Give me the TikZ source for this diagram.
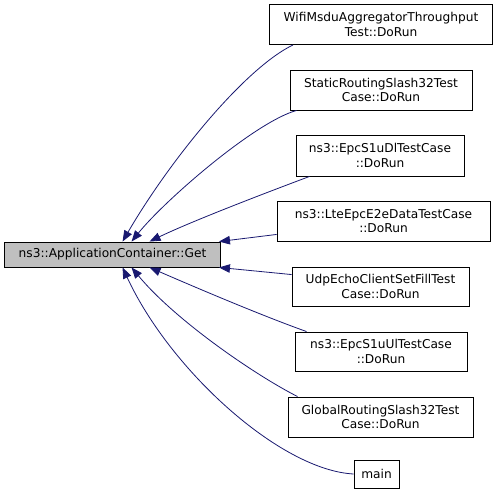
\documentclass[tikz,border=0pt]{standalone}
\usepackage{fontspec}
\setmainfont{DejaVu Sans}
\usepackage{tikz}
\usetikzlibrary{arrows.meta,positioning}
\definecolor{edgecolor}{RGB}{25,25,112}
\definecolor{getfill}{RGB}{191,191,191}
\tikzset{
  caller/.style={
    draw=black,
    fill=white,
    line width=0.9pt,
    align=center,
    inner sep=0pt,
    font=\fontsize{12.2}{14.5}\selectfont
  },
  callee/.style={
    caller,
    fill=getfill
  },
  callarrow/.style={
    -{Triangle[length=11pt,width=8.5pt,fill=edgecolor]},
    draw=edgecolor,
    line width=0.8pt
  }
}

\begin{document}
\begin{tikzpicture}[x=1pt,y=-1pt]
  \useasboundingbox (0,0) rectangle (499,495);

  % Called function
  \node[callee, minimum width=216pt, minimum height=25pt] (get) at (112.5,254.5) {ns3::ApplicationContainer::Get};

  % Callers
  \node[caller, minimum width=223pt, minimum height=40pt] (wifi) at (381,24.5) {WifiMsduAggregatorThroughput\\Test::DoRun};
  \node[caller, minimum width=182pt, minimum height=40pt] (static) at (381,90) {StaticRoutingSlash32Test\\Case::DoRun};
  \node[caller, minimum width=168pt, minimum height=41pt] (epcdl) at (380,155.5) {ns3::EpcS1uDlTestCase\\::DoRun};
  \node[caller, minimum width=213pt, minimum height=40pt] (lte) at (383.5,221) {ns3::LteEpcE2eDataTestCase\\::DoRun};
  \node[caller, minimum width=177pt, minimum height=39pt] (udp) at (380.5,286.5) {UdpEchoClientSetFillTest\\Case::DoRun};
  \node[caller, minimum width=172pt, minimum height=39pt] (epcul) at (381,351.5) {ns3::EpcS1uUlTestCase\\::DoRun};
  \node[caller, minimum width=185pt, minimum height=40pt] (global) at (380.5,417) {GlobalRoutingSlash32Test\\Case::DoRun};
  \node[caller, minimum width=45pt, minimum height=28pt] (mainfn) at (376.5,474) {main};

  % Calls
  \draw[callarrow] ([xshift=24pt]wifi.south west) .. controls (245,68) and (170,160) .. ([xshift=118.5pt]get.north west);
  \draw[callarrow] ([xshift=7pt]static.south west) .. controls (255,122) and (165,200) .. ([xshift=127.5pt]get.north west);
  \draw[callarrow] ([xshift=14pt]epcdl.south west) .. controls (260,195) and (190,222) .. ([xshift=145.5pt]get.north west);
  \draw[callarrow] ([yshift=7pt]lte.south west) -- ([xshift=-2pt]get.north east);
  \draw[callarrow] ([yshift=-8pt]udp.north west) -- ([xshift=-2pt]get.south east);
  \draw[callarrow] ([xshift=12pt]epcul.north west) .. controls (260,315) and (190,285) .. ([xshift=145.5pt]get.south west);
  \draw[callarrow] ([xshift=10pt]global.north west) .. controls (255,375) and (175,320) .. ([xshift=127.5pt]get.south west);
  \draw[callarrow] (mainfn.west) .. controls (280,470) and (170,370) .. ([xshift=118.5pt]get.south west);
\end{tikzpicture}
\end{document}
